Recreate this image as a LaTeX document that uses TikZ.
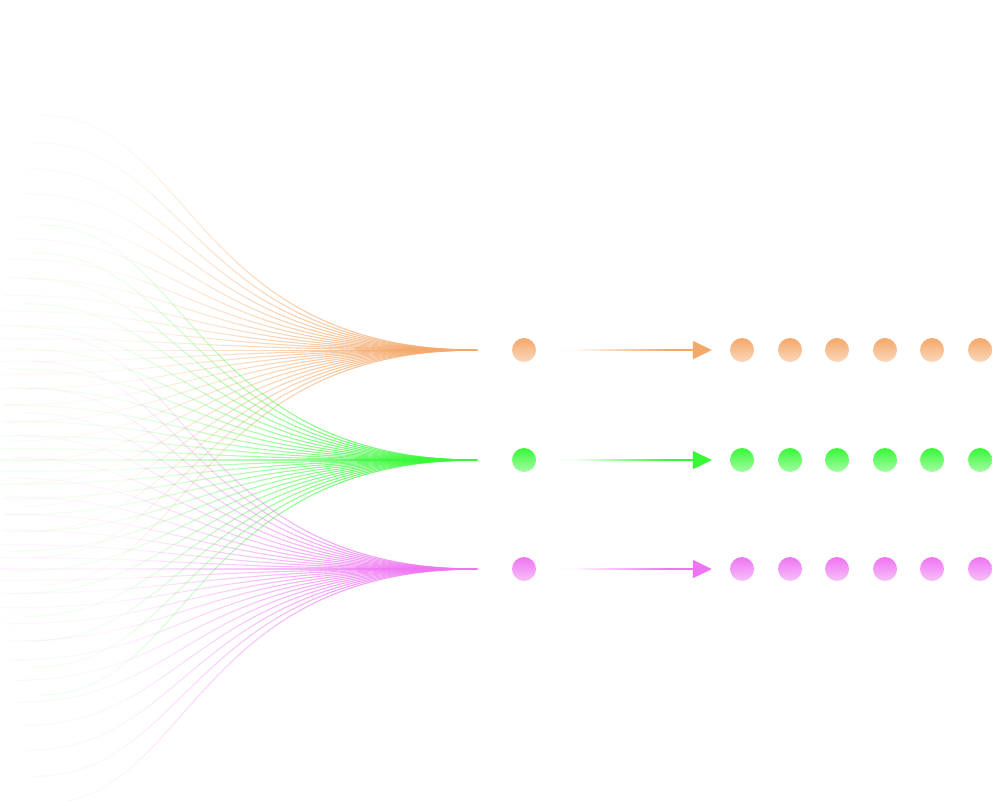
\documentclass[tikz,border=0pt]{standalone}
\usetikzlibrary{fadings,arrows.meta}
\definecolor{cOr}{HTML}{F4A86A}
\definecolor{cGr}{HTML}{38F838}
\definecolor{cMa}{HTML}{EE74F2}
\tikzfading[name=fadeL, left color=transparent!93, right color=transparent!30]
\tikzfading[name=fadeA, left color=transparent!96, right color=transparent!0]
\begin{document}
\begin{tikzpicture}[x=1pt,y=-1pt,
  fanline/.style={line width=1.1pt, path fading=fadeL, fit fading=false,
    fading transform={shift={(238.5pt,-400pt)}, xscale=4.8, yscale=10}},
  dot/.style={circle, minimum size=24pt, inner sep=0pt, top color=#1, bottom color=#1!45!white, draw=none},
  flow/.style={line width=1.8pt, draw=#1, fill=#1, shorten <=24pt, shorten >=18pt, -{Triangle[length=19pt,width=18pt]}}]
\useasboundingbox (0,0) rectangle (992,800);
\foreach \c/\yc/\n in {cOr/350/A, cGr/460/B, cMa/569/C} {
  \coordinate (end\n) at (477,\yc);
  \foreach \i in {-12,...,12} {
    \pgfmathsetmacro{\u}{\i/12}
    \pgfmathsetmacro{\yy}{\yc-235*\u*(0.55+0.45*abs(\u))}
    \pgfmathsetmacro{\sx}{40*\u*\u}
    \coordinate (s\n\i) at (\sx,\yy);
    \draw[fanline, draw=\c] (s\n\i) .. controls (190,\yy) and (190,\yc) .. (end\n);
  }
  \node[dot=\c] (d\n) at (524,\yc) {};
  \foreach \k/\x in {1/742,2/790,3/837,4/885,5/932,6/980} {
    \node[dot=\c] (d\n\k) at (\x,\yc) {};
  }
  \draw[flow=\c, path fading=fadeA, fit fading=false,
    fading transform={shift={(622pt,-\yc pt)}, xscale=1.9, yscale=10}] (d\n) -- (d\n1);
}
\end{tikzpicture}
\end{document}
